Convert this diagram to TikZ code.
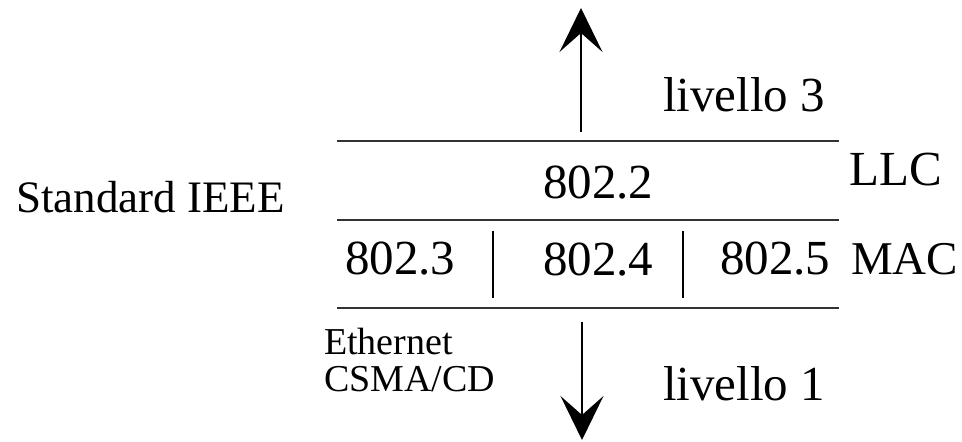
\documentclass[tikz,border=0pt]{standalone}
\usepackage{fontspec}
\setmainfont{Liberation Serif}
\usetikzlibrary{arrows.meta}
\begin{document}
\begin{tikzpicture}[x=1pt,y=1pt,
  lbl/.style={anchor=base west,inner sep=0pt,font=\fontsize{49}{55}\selectfont},
  lblmid/.style={anchor=base west,inner sep=0pt,font=\fontsize{45}{50}\selectfont},
  lblsmall/.style={anchor=base west,inner sep=0pt,font=\fontsize{38}{42}\selectfont},
  rule/.style={line width=1.8pt,draw=black!80},
  sep/.style={line width=1.6pt},
  flow/.style={line width=1.6pt,-{Stealth[length=44pt,width=43pt,inset=19pt]}}]
\useasboundingbox (0,0) rectangle (962,442);
% horizontal rules
\coordinate (t1) at (337,301); \coordinate (t2) at (839,301);
\coordinate (m1) at (337,222); \coordinate (m2) at (839,222);
\coordinate (b1) at (337,134); \coordinate (b2) at (839,134);
\draw[rule] (t1) -- (t2);
\draw[rule] (m1) -- (m2);
\draw[rule] (b1) -- (b2);
% separators
\coordinate (s1a) at (493,211); \coordinate (s1b) at (493,144);
\coordinate (s2a) at (683,211); \coordinate (s2b) at (683,144);
\draw[sep] (s1a) -- (s1b);
\draw[sep] (s2a) -- (s2b);
% arrows
\coordinate (ua) at (581,310); \coordinate (ub) at (581,434);
\coordinate (da) at (582,120); \coordinate (db) at (582,2);
\draw[flow] (ua) -- (ub);
\draw[flow] (da) -- (db);
% labels
\node[lbl] (l3) at (663,330) {livello 3};
\node[lbl] (llc) at (849,256) {LLC};
\node[lbl] (n2) at (543,243) {802.2};
\node[lblmid] (std) at (16,229) {Standard IEEE};
\node[lbl] (n3) at (345,167) {802.3};
\node[lbl] (n4) at (543,166) {802.4};
\node[lbl] (n5) at (720,167) {802.5};
\node[lbl,font=\fontsize{47}{52}\selectfont] (mac) at (851,167) {MAC};
\node[lblsmall] (eth) at (324,87) {Ethernet};
\node[lblsmall] (csma) at (324,50) {CSMA/CD};
\node[lbl] (l1) at (663,41) {livello 1};
\end{tikzpicture}
\end{document}
